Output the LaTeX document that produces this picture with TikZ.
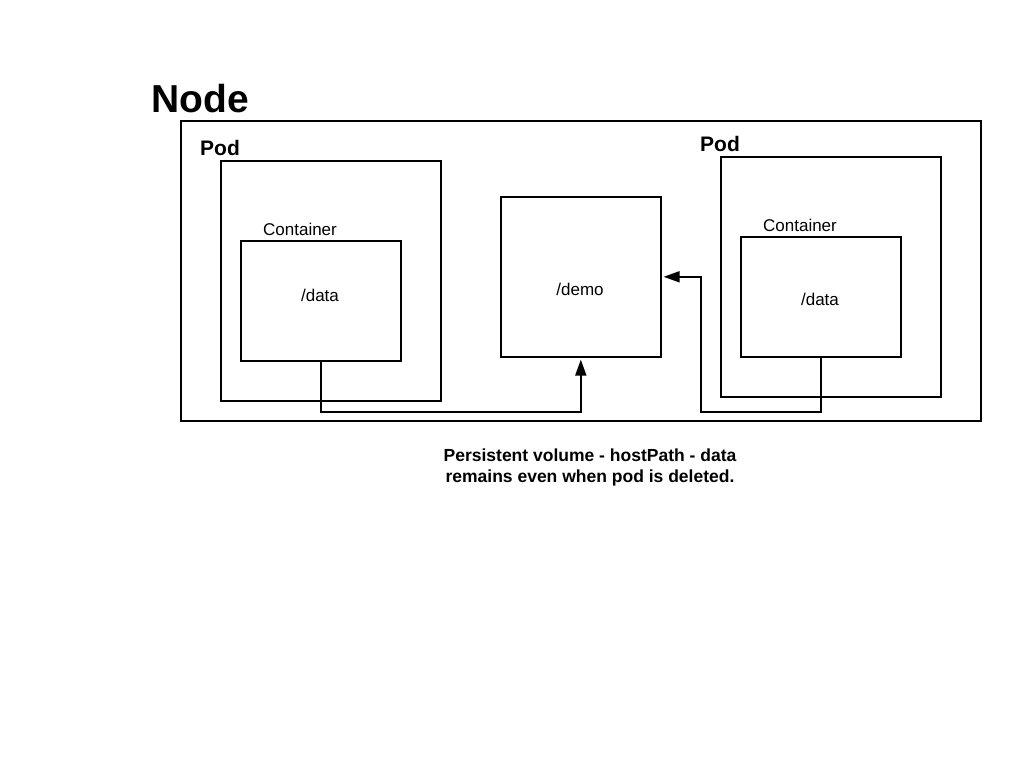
\documentclass[tikz,border=0pt]{standalone}
\usepackage{fontspec}
\setmainfont{Liberation Sans}
\usepackage{tikz}
\usetikzlibrary{arrows.meta,positioning,calc}

\begin{document}
\begin{tikzpicture}[
  x=1pt,y=-1pt,
  box/.style={draw,line width=1.6pt,inner sep=0pt,anchor=north west},
  lbl/.style={font=\fontsize{17}{21}\selectfont},
  ttl/.style={font=\fontsize{21}{25}\selectfont\bfseries},
  flow/.style={draw,line width=1.8pt,-{Triangle[length=16pt,width=11pt]},shorten >=2pt}
]
\useasboundingbox (0,0) rectangle (1020,760);

% Host node
\node[font=\fontsize{39}{45}\selectfont\bfseries] (title) at (200,99) {Node};
\node[box,minimum width=800pt,minimum height=300pt] (host) at (180,120) {};

% Left pod
\node[box,minimum width=220pt,minimum height=240pt] (podL) at (220,160) {};
\node[ttl] (podLlbl) at (220,148) {Pod};
\node[box,minimum width=160pt,minimum height=120pt] (cL) at (240,240) {};
\node[lbl] (cLlbl) at (300,229) {Container};
\node[lbl] (dataL) at (320,295) {/data};

% Host volume
\node[box,minimum width=160pt,minimum height=160pt] (demo) at (500,196) {};
\node[lbl] (demolbl) at (580,289) {/demo};

% Right pod
\node[box,minimum width=220pt,minimum height=240pt] (podR) at (720,156) {};
\node[ttl] (podRlbl) at (720,144) {Pod};
\node[box,minimum width=160pt,minimum height=120pt] (cR) at (740,236) {};
\node[lbl] (cRlbl) at (800,225) {Container};
\node[lbl] (dataR) at (820,299) {/data};

% Mounts
\path[flow] (cL.south) -- ++(0,50) -| (demo.south);
\path[flow] (cR.south) -- ++(0,54) -- ++(-120,0) |- (demo.east);

\node[font=\fontsize{17.5}{21}\selectfont\bfseries,align=center] (note) at (590,467)
  {Persistent volume - hostPath - data\\remains even when pod is deleted.};
\end{tikzpicture}
\end{document}
